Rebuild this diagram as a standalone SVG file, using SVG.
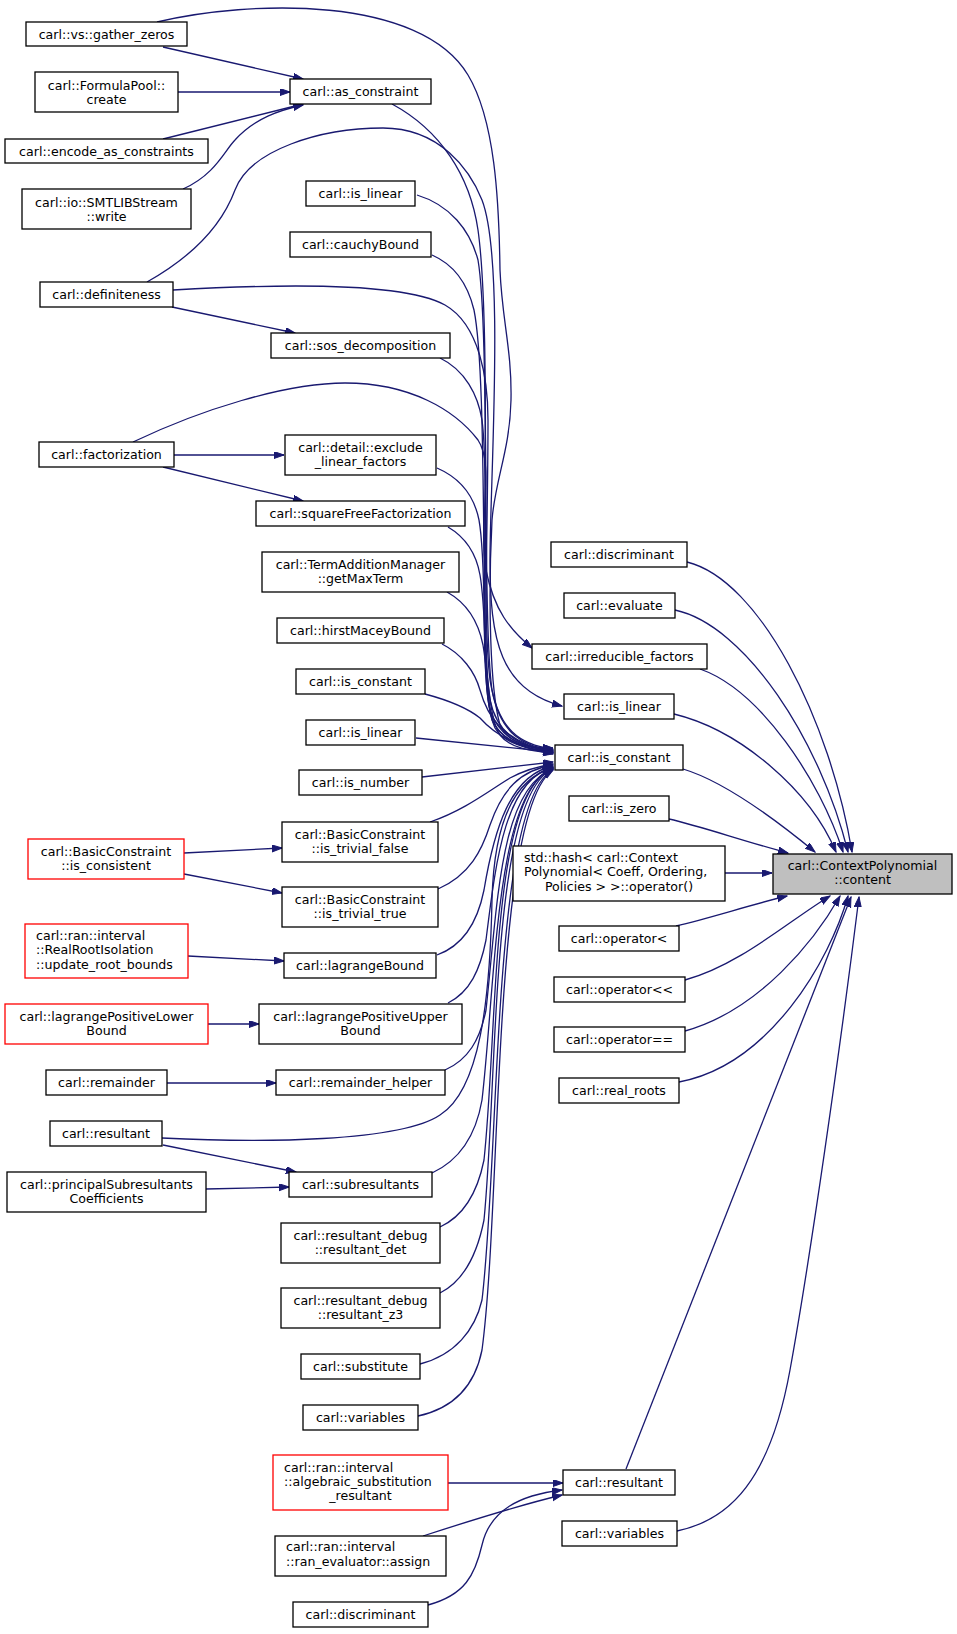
<svg xmlns="http://www.w3.org/2000/svg" width="957" height="1634" viewBox="0 0 957 1634">
<defs>
<marker id="ah" markerUnits="userSpaceOnUse" markerWidth="11" markerHeight="8" refX="10" refY="3.5" orient="auto">
<path d="M0,0 L10,3.5 L0,7 z" fill="#191970" stroke="#191970" stroke-width="1"/>
</marker>
<style>
.n rect{fill:#fff;stroke:#000;stroke-width:1.3}
.r rect{fill:#fff;stroke:#ff0000;stroke-width:1.3}
.g rect{fill:#bfbfbf;stroke:#000;stroke-width:1.3}
text{font-family:"DejaVu Sans",sans-serif;font-size:12.6px;fill:#000}
.c{text-anchor:middle}
#edges path{fill:none;stroke:#191970;stroke-width:1.3;marker-end:url(#ah)}
</style>
</defs>
<rect x="0" y="0" width="957" height="1634" fill="#fff"/>
<g id="edges">
<path d="M163,47 L303,79"/>
<path d="M178,92 L290,92"/>
<path d="M163,139 L303,104"/>
<path d="M183,189 C215,175 225,150 235,140 C255,118 280,110 303,105"/>
<path d="M172,307 L295,333"/>
<path d="M174,455 L284,455"/>
<path d="M163,467 L303,501"/>
<path d="M184,853 L282,848"/>
<path d="M184,874 L282,893"/>
<path d="M188,956 L284,961"/>
<path d="M208,1024 L259,1024"/>
<path d="M167,1083 L276,1083"/>
<path d="M163,1145 L296,1172"/>
<path d="M206,1189 L289,1187"/>
<path d="M448,1483 L563,1483"/>
<path d="M423,1536 C460,1524 520,1505 562,1495"/>
<path d="M428,1605 C465,1595 475,1575 482,1545 C490,1510 520,1495 562,1490"/>
<path d="M392,104 C440,130 470,175 478,230 C492,330 480,600 490,680 C498,730 520,745 553,749"/>
<path d="M417,195 C450,205 470,230 478,260 C490,330 482,620 492,690 C500,735 525,747 553,750"/>
<path d="M432,255 C455,265 468,285 474,310 C488,380 480,640 490,700 C498,738 525,748 553,751"/>
<path d="M173,290 C260,285 400,280 445,305 C480,325 488,380 488,420 C488,560 480,700 495,725 C508,745 530,748 553,750"/>
<path d="M440,358 C465,370 478,395 482,420 C490,480 478,660 490,710 C500,740 525,748 553,751"/>
<path d="M437,468 C460,478 474,495 479,520 C488,570 480,680 492,720 C502,742 525,749 553,752"/>
<path d="M448,527 C465,537 476,552 480,575 C488,620 482,700 495,728 C505,745 530,750 553,752"/>
<path d="M447,592 C465,602 478,620 483,645 C490,690 490,720 500,735 C510,748 530,751 553,753"/>
<path d="M442,644 C462,654 475,672 480,690 C487,715 500,740 553,753"/>
<path d="M425,694 C455,702 470,710 480,718 C495,735 520,748 553,754"/>
<path d="M416,738 L553,752"/>
<path d="M422,777 L553,762"/>
<path d="M430,822 C465,810 490,790 510,778 C525,770 540,766 553,764"/>
<path d="M438,889 C470,875 482,850 490,825 C502,790 520,770 553,765"/>
<path d="M437,955 C465,945 478,920 484,890 C494,830 510,775 553,766"/>
<path d="M448,1003 C470,992 480,970 486,940 C496,860 505,780 553,767"/>
<path d="M445,1070 C468,1060 480,1040 486,1010 C498,900 500,790 553,768"/>
<path d="M432,1173 C460,1160 476,1135 482,1100 C496,980 495,790 553,768"/>
<path d="M440,1227 C466,1215 478,1190 484,1160 C498,1030 490,790 553,769"/>
<path d="M440,1293 C466,1280 478,1250 484,1220 C498,1080 490,795 553,769"/>
<path d="M420,1364 C455,1355 475,1330 482,1300 C500,1150 492,800 553,770"/>
<path d="M418,1416 C455,1408 475,1385 482,1350 C502,1200 492,810 553,770"/>
<path d="M162,1138 C260,1143 400,1142 440,1115 C480,1090 490,1000 492,900 C494,820 515,778 553,768"/>
<path d="M157,22 C250,0 420,-5 468,75 C495,120 499,200 500,270 C502,320 512,350 511,400 C510,450 495,480 492,520 C488,600 490,690 500,725 C510,745 530,748 553,748"/>
<path d="M147,282 C195,255 222,225 235,190 C250,150 320,128 383,128 C440,128 470,170 482,200 C505,260 490,480 490,560 C490,640 500,690 562,706"/>
<path d="M133,442 C200,410 285,383 345,383 C410,383 455,410 478,440 C495,465 478,520 486,570 C494,610 510,630 532,648"/>
<path d="M687,562 C760,580 830,720 852,852"/>
<path d="M675,610 C745,625 820,740 848,852"/>
<path d="M700,669 C760,690 820,780 843,852"/>
<path d="M674,714 C740,730 810,790 836,852"/>
<path d="M683,769 C720,780 770,815 815,852"/>
<path d="M669,819 C700,826 740,840 788,853"/>
<path d="M725,873 L772,873"/>
<path d="M676,926 C710,918 750,905 787,896"/>
<path d="M685,980 C740,965 790,920 830,896"/>
<path d="M685,1031 C760,1010 815,940 840,896"/>
<path d="M679,1082 C770,1065 830,960 848,896"/>
<path d="M626,1469 L851,897"/>
<path d="M677,1531 C730,1520 770,1480 790,1370 C810,1260 840,1050 859,897"/>
</g>
<g id="n_gather" class="n"><rect x="26" y="22" width="161" height="24"/><text class="c" x="106.5" y="38.5">carl::vs::gather_zeros</text></g>
<g id="n_create" class="n"><rect x="35" y="72" width="143" height="40"/><text class="c" x="106.5" y="89.5">carl::FormulaPool::</text><text class="c" x="106.5" y="103.5">create</text></g>
<g id="n_asc" class="n"><rect x="290" y="79" width="141" height="25"/><text class="c" x="360.5" y="96">carl::as_constraint</text></g>
<g id="n_encode" class="n"><rect x="5" y="139" width="203" height="24"/><text class="c" x="106.5" y="155.5">carl::encode_as_constraints</text></g>
<g id="n_smtlib" class="n"><rect x="22" y="189" width="169" height="40"/><text class="c" x="106.5" y="206.5">carl::io::SMTLIBStream</text><text class="c" x="106.5" y="220.5">::write</text></g>
<g id="n_islin1" class="n"><rect x="306" y="181" width="109" height="25"/><text class="c" x="360.5" y="198">carl::is_linear</text></g>
<g id="n_cauchy" class="n"><rect x="290" y="232" width="141" height="25"/><text class="c" x="360.5" y="249">carl::cauchyBound</text></g>
<g id="n_def" class="n"><rect x="40" y="282" width="133" height="25"/><text class="c" x="106.5" y="299">carl::definiteness</text></g>
<g id="n_sos" class="n"><rect x="271" y="333" width="179" height="25"/><text class="c" x="360.5" y="350">carl::sos_decomposition</text></g>
<g id="n_fact" class="n"><rect x="39" y="442" width="135" height="25"/><text class="c" x="106.5" y="459">carl::factorization</text></g>
<g id="n_excl" class="n"><rect x="285" y="435" width="151" height="40"/><text class="c" x="360.5" y="451.5">carl::detail::exclude</text><text class="c" x="360.5" y="465.5">_linear_factors</text></g>
<g id="n_sqf" class="n"><rect x="256" y="501" width="209" height="25"/><text class="c" x="360.5" y="518">carl::squareFreeFactorization</text></g>
<g id="n_tam" class="n"><rect x="262" y="552" width="197" height="40"/><text class="c" x="360.5" y="568.5">carl::TermAdditionManager</text><text class="c" x="360.5" y="582.5">::getMaxTerm</text></g>
<g id="n_hirst" class="n"><rect x="277" y="618" width="167" height="25"/><text class="c" x="360.5" y="635">carl::hirstMaceyBound</text></g>
<g id="n_isconst1" class="n"><rect x="296" y="669" width="129" height="25"/><text class="c" x="360.5" y="686">carl::is_constant</text></g>
<g id="n_islin2" class="n"><rect x="306" y="720" width="109" height="25"/><text class="c" x="360.5" y="737">carl::is_linear</text></g>
<g id="n_isnum" class="n"><rect x="299" y="770" width="123" height="25"/><text class="c" x="360.5" y="787">carl::is_number</text></g>
<g id="n_trivf" class="n"><rect x="282" y="822" width="156" height="40"/><text class="c" x="360" y="838.5">carl::BasicConstraint</text><text class="c" x="360" y="852.5">::is_trivial_false</text></g>
<g id="n_consist" class="r"><rect x="28" y="839" width="156" height="40"/><text class="c" x="106" y="855.5">carl::BasicConstraint</text><text class="c" x="106" y="869.5">::is_consistent</text></g>
<g id="n_trivt" class="n"><rect x="282" y="887" width="156" height="40"/><text class="c" x="360" y="903.5">carl::BasicConstraint</text><text class="c" x="360" y="917.5">::is_trivial_true</text></g>
<g id="n_urb" class="r"><rect x="25" y="924" width="163" height="54"/><text x="36" y="940">carl::ran::interval</text><text x="36" y="954">::RealRootIsolation</text><text x="36" y="968.5">::update_root_bounds</text></g>
<g id="n_lagb" class="n"><rect x="284" y="953" width="152" height="25"/><text class="c" x="360" y="970">carl::lagrangeBound</text></g>
<g id="n_lplb" class="r"><rect x="5" y="1004" width="203" height="40"/><text class="c" x="106.5" y="1020.5">carl::lagrangePositiveLower</text><text class="c" x="106.5" y="1034.5">Bound</text></g>
<g id="n_lpub" class="n"><rect x="259" y="1004" width="203" height="40"/><text class="c" x="360.5" y="1020.5">carl::lagrangePositiveUpper</text><text class="c" x="360.5" y="1034.5">Bound</text></g>
<g id="n_rem" class="n"><rect x="46" y="1070" width="121" height="25"/><text class="c" x="106.5" y="1087">carl::remainder</text></g>
<g id="n_remh" class="n"><rect x="276" y="1070" width="169" height="25"/><text class="c" x="360.5" y="1087">carl::remainder_helper</text></g>
<g id="n_res1" class="n"><rect x="50" y="1121" width="112" height="25"/><text class="c" x="106" y="1138">carl::resultant</text></g>
<g id="n_psc" class="n"><rect x="7" y="1172" width="199" height="40"/><text class="c" x="106.5" y="1188.5">carl::principalSubresultants</text><text class="c" x="106.5" y="1202.5">Coefficients</text></g>
<g id="n_subres" class="n"><rect x="289" y="1172" width="143" height="25"/><text class="c" x="360.5" y="1189">carl::subresultants</text></g>
<g id="n_rdet" class="n"><rect x="281" y="1223" width="159" height="40"/><text class="c" x="360.5" y="1239.5">carl::resultant_debug</text><text class="c" x="360.5" y="1253.5">::resultant_det</text></g>
<g id="n_rz3" class="n"><rect x="281" y="1288" width="159" height="40"/><text class="c" x="360.5" y="1304.5">carl::resultant_debug</text><text class="c" x="360.5" y="1318.5">::resultant_z3</text></g>
<g id="n_subst" class="n"><rect x="301" y="1354" width="119" height="25"/><text class="c" x="360.5" y="1371">carl::substitute</text></g>
<g id="n_vars1" class="n"><rect x="303" y="1405" width="115" height="25"/><text class="c" x="360.5" y="1422">carl::variables</text></g>
<g id="n_asr" class="r"><rect x="273" y="1455" width="175" height="55"/><text x="284" y="1472">carl::ran::interval</text><text x="284" y="1486">::algebraic_substitution</text><text class="c" x="360.5" y="1500">_resultant</text></g>
<g id="n_assign" class="n"><rect x="275" y="1536" width="171" height="40"/><text x="286" y="1551">carl::ran::interval</text><text x="286" y="1566">::ran_evaluator::assign</text></g>
<g id="n_disc2" class="n"><rect x="293" y="1602" width="135" height="25"/><text class="c" x="360.5" y="1619">carl::discriminant</text></g>
<g id="n_disc1" class="n"><rect x="551" y="542" width="136" height="25"/><text class="c" x="619" y="559">carl::discriminant</text></g>
<g id="n_eval" class="n"><rect x="564" y="593" width="111" height="25"/><text class="c" x="619.5" y="610">carl::evaluate</text></g>
<g id="n_irr" class="n"><rect x="532" y="644" width="175" height="25"/><text class="c" x="619.5" y="661">carl::irreducible_factors</text></g>
<g id="n_islin3" class="n"><rect x="564" y="694" width="110" height="25"/><text class="c" x="619" y="711">carl::is_linear</text></g>
<g id="n_hub" class="n"><rect x="555" y="745" width="128" height="25"/><text class="c" x="619" y="762">carl::is_constant</text></g>
<g id="n_iszero" class="n"><rect x="569" y="796" width="100" height="25"/><text class="c" x="619" y="813">carl::is_zero</text></g>
<g id="n_hash" class="n"><rect x="513" y="846" width="212" height="55"/><text x="524" y="862">std::hash&lt; carl::Context</text><text x="524" y="876">Polynomial&lt; Coeff, Ordering,</text><text class="c" x="619" y="891">Policies &gt; &gt;::operator()</text></g>
<g id="n_lt" class="n"><rect x="559" y="926" width="120" height="25"/><text class="c" x="619" y="943">carl::operator&lt;</text></g>
<g id="n_shl" class="n"><rect x="554" y="977" width="131" height="25"/><text class="c" x="619.5" y="994">carl::operator&lt;&lt;</text></g>
<g id="n_eq" class="n"><rect x="554" y="1027" width="131" height="25"/><text class="c" x="619.5" y="1044">carl::operator==</text></g>
<g id="n_roots" class="n"><rect x="559" y="1078" width="120" height="25"/><text class="c" x="619" y="1095">carl::real_roots</text></g>
<g id="n_res2" class="n"><rect x="563" y="1470" width="112" height="25"/><text class="c" x="619" y="1487">carl::resultant</text></g>
<g id="n_vars2" class="n"><rect x="562" y="1521" width="115" height="25"/><text class="c" x="619.5" y="1538">carl::variables</text></g>
<g id="n_content" class="g"><rect x="773" y="854" width="179" height="40"/><text class="c" x="862.5" y="870">carl::ContextPolynomial</text><text class="c" x="862.5" y="884">::content</text></g>
</svg>
